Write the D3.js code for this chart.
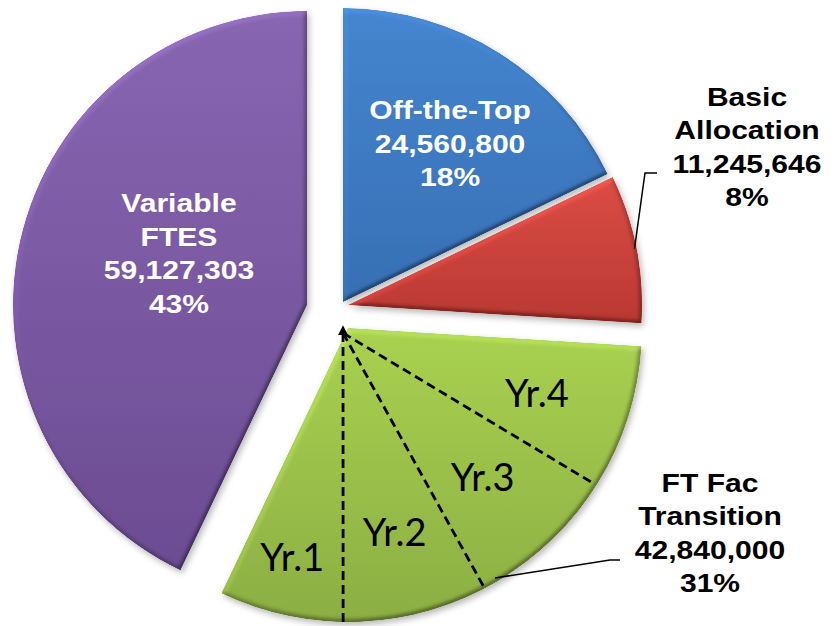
<!DOCTYPE html>
<html>
<head>
<meta charset="utf-8">
<script src="https://d3js.org/d3.v7.min.js"></script>
<style>
  body { margin: 0; background: #fff; }
  svg { display: block; }
</style>
</head>
<body>
<svg id="chart" width="836" height="626"></svg>
<script>
// ---- data ----
var categories = ["Off-the-Top", "Basic Allocation", "FT Fac Transition", "Variable FTES"];
var categoryLines = [["Off-the-Top"], ["Basic", "Allocation"], ["FT Fac", "Transition"], ["Variable", "FTES"]];
var amounts = [24560800, 11245646, 42840000, 59127303];
var yearLabels = ["Yr.1", "Yr.2", "Yr.3", "Yr.4"];
var yearShares = [0.228, 0.259, 0.268, 0.245]; // share of the FT Fac slice, Yr.1 next to Variable FTES

// ---- layout ----
var svg = d3.select("#chart"),
    R = 294,
    center = [343, 305];

// each slice is pulled out on its own
var offsets = [[0, -3], [5, 0], [5, 23], [-36, 0]];
var topColors = ["#4585d0", "#dc4d45", "#a9d150", "#8866b1"];
var bottomColors = ["#376fb3", "#b93832", "#8cae43", "#6b4c92"];

// labels inside slices: radius and angle shift from the slice middle
var insideLabels = { 0: { r: 191, da: 0.035 }, 3: { r: 138, da: 0.16 } };
// labels outside: text centre, leader elbow and end
var outsideLabels = {
  1: { x: 747, y: 147, r: 292, elbow: [645, 173], end: [657, 173] },
  2: { x: 710, y: 533, r: 290, elbow: [610, 560], end: [620, 560] }
};
var lineH = 33.5, stretch = 1.18;

var total = d3.sum(amounts);
var fmtNum = d3.format(",");
var fmtPct = d3.format(".0%");

var pie = d3.pie().sort(null).value(function(d) { return d; });
var arcs = pie(amounts);
var arc = d3.arc().innerRadius(0).outerRadius(R);

function polar(a, r) { return [r * Math.sin(a), -r * Math.cos(a)]; }
function apex(i) { return [center[0] + offsets[i][0], center[1] + offsets[i][1]]; }

// ---- defs: gradients, bevel + shadow ----
var defs = svg.append("defs");
arcs.forEach(function(d, i) {
  var g = defs.append("linearGradient")
    .attr("id", "grad" + i)
    .attr("x1", 0).attr("y1", 0).attr("x2", 0).attr("y2", 1);
  g.append("stop").attr("offset", "0%").attr("stop-color", topColors[i]);
  g.append("stop").attr("offset", "100%").attr("stop-color", bottomColors[i]);
});

var f = defs.append("filter").attr("id", "bevel")
  .attr("x", "-10%").attr("y", "-10%").attr("width", "125%").attr("height", "125%");
f.append("feGaussianBlur").attr("in", "SourceAlpha").attr("stdDeviation", 2.5).attr("result", "blur");
f.append("feDiffuseLighting").attr("in", "blur").attr("surfaceScale", 4)
  .attr("diffuseConstant", 1).attr("lighting-color", "#fff").attr("result", "light")
  .append("feDistantLight").attr("azimuth", 235).attr("elevation", 45);
// half lit, half flat, so the rim stays soft
f.append("feComposite").attr("in", "SourceGraphic").attr("in2", "light")
  .attr("operator", "arithmetic").attr("k1", 0.85).attr("k2", 0.4).attr("k3", 0).attr("k4", 0)
  .attr("result", "lit");
f.append("feComposite").attr("in", "lit").attr("in2", "SourceAlpha").attr("operator", "in").attr("result", "shape");
f.append("feGaussianBlur").attr("in", "SourceAlpha").attr("stdDeviation", 3).attr("result", "sblur");
f.append("feOffset").attr("in", "sblur").attr("dx", 2).attr("dy", 3).attr("result", "soff");
f.append("feFlood").attr("flood-color", "#000").attr("flood-opacity", 0.28).attr("result", "scol");
f.append("feComposite").attr("in", "scol").attr("in2", "soff").attr("operator", "in").attr("result", "shadow");
var m = f.append("feMerge");
m.append("feMergeNode").attr("in", "shadow");
m.append("feMergeNode").attr("in", "shape");

defs.append("marker").attr("id", "tip")
  .attr("viewBox", "0 0 10 10").attr("refX", 2).attr("refY", 5)
  .attr("markerWidth", 3.5).attr("markerHeight", 3.5).attr("orient", "auto-start-reverse")
  .append("path").attr("d", "M0,0L10,5L0,10z").attr("fill", "#000");

// ---- slices ----
svg.append("g").selectAll("path")
  .data(arcs)
  .enter().append("path")
    .attr("transform", function(d, i) { return "translate(" + apex(i) + ")"; })
    .attr("d", arc)
    .attr("fill", function(d, i) { return "url(#grad" + i + ")"; })
    .attr("filter", "url(#bevel)");

// ---- year split lines inside FT Fac Transition ----
var ft = arcs[2];
var span = ft.endAngle - ft.startAngle;
var bounds = [ft.endAngle];
yearShares.forEach(function(s, k) { bounds.push(bounds[k] - s * span); });
var dashOrigin = [apex(2)[0] - 5, apex(2)[1] + 5];
var yearG = svg.append("g").attr("transform", "translate(" + dashOrigin + ")");

yearG.selectAll("line")
  .data(bounds.slice(1, 4))
  .enter().append("line")
    .attr("x1", 0).attr("y1", 0)
    .attr("x2", function(a) { return polar(a, 293)[0]; })
    .attr("y2", function(a) { return polar(a, 293)[1]; })
    .attr("stroke", "#000").attr("stroke-width", 2.8)
    .attr("stroke-dasharray", "9,5")
    .attr("marker-start", function(a, k) { return k === 0 ? "url(#tip)" : null; });

var yearR = [230, 206, 201, 203];
yearG.selectAll("text")
  .data(yearLabels)
  .enter().append("text")
    .attr("transform", function(t, k) {
      var a = (bounds[k] + bounds[k + 1]) / 2;
      return "translate(" + polar(a, yearR[k]) + ")";
    })
    .attr("text-anchor", "middle")
    .attr("dy", "0.35em")
    .style("font-family", "Lato, 'Open Sans', sans-serif")
    .style("font-size", "38px")
    .attr("fill", "#000")
    .text(function(t) { return t; });

// ---- value labels ----
function labelBlock(i, x, y, color) {
  var lines = categoryLines[i].concat([fmtNum(amounts[i]), fmtPct(amounts[i] / total)]);
  var y0 = y - (lines.length - 1) * lineH / 2 + 9;
  var g = svg.append("g")
    .attr("transform", "translate(" + x + ",0) scale(" + stretch + ",1)");
  g.selectAll("text")
    .data(lines)
    .enter().append("text")
      .attr("x", 0)
      .attr("y", function(t, k) { return y0 + k * lineH; })
      .attr("text-anchor", "middle")
      .style("font-family", "'Liberation Sans', Arial, sans-serif")
      .style("font-weight", "bold")
      .style("font-size", "25.5px")
      .attr("fill", color)
      .text(function(t) { return t; });
}

arcs.forEach(function(d, i) {
  var mid = (d.startAngle + d.endAngle) / 2;
  var o = apex(i);
  if (insideLabels[i]) {
    var p = polar(mid + insideLabels[i].da, insideLabels[i].r);
    labelBlock(i, o[0] + p[0], o[1] + p[1], "#fff");
  } else {
    var L = outsideLabels[i];
    var s = polar(mid, L.r);
    svg.append("polyline")
      .attr("points", [[o[0] + s[0], o[1] + s[1]], L.elbow, L.end].join(" "))
      .attr("fill", "none").attr("stroke", "#000").attr("stroke-width", 1.5);
    labelBlock(i, L.x, L.y, "#000");
  }
});
</script>
</body>
</html>
